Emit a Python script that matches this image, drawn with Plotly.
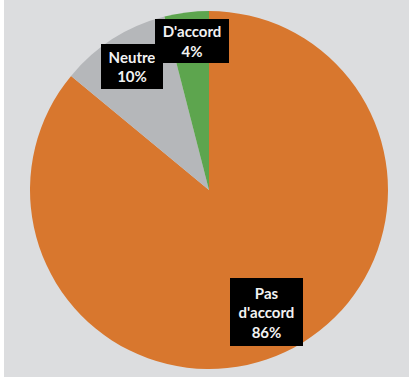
import plotly.graph_objects as go

# Répartition des réponses
labels = ["Pas d'accord", "Neutre", "D'accord"]
values = [86, 10, 4]
label_text = ["Pas<br>d'accord<br>86%", "Neutre<br>10%", "D'accord<br>4%"]
colors = ["#d8772e", "#b5b7ba", "#5da54e"]

W, H = 411, 380

fig = go.Figure(go.Pie(
    labels=labels,
    values=values,
    sort=False,
    direction="clockwise",
    rotation=0,
    marker=dict(colors=colors, line=dict(width=0)),
    textinfo="none",
    hoverinfo="label+percent",
    showlegend=False,
    domain=dict(x=[30 / W, 388 / W], y=[(H - 369) / H, (H - 11) / H]),
))

# fond gris du graphique
fig.add_shape(type="rect", xref="paper", yref="paper",
              x0=4 / W, x1=409 / W, y0=3 / H, y1=1,
              fillcolor="#dcdddf", line=dict(width=0), layer="below")

# étiquettes sur fond noir (centre x, centre y, largeur, hauteur en px)
boxes = {
    "Neutre": (132, 66.5, 62, 45),
    "D'accord": (192, 41, 74, 44),
    "Pas d'accord": (266.5, 312, 73, 68),
}
for name in ["Neutre", "D'accord", "Pas d'accord"]:
    cx, cy, bw, bh = boxes[name]
    fig.add_annotation(
        x=cx / W, y=1 - cy / H, xref="paper", yref="paper",
        xanchor="center", yanchor="middle",
        text=label_text[labels.index(name)],
        showarrow=False, align="center",
        width=bw, height=bh, bgcolor="#000000",
        borderpad=0, borderwidth=0,
        font=dict(family="Lato", size=15, color="#f2f2f2", weight="bold"),
    )

fig.update_layout(
    width=W, height=H,
    margin=dict(l=0, r=0, t=0, b=0),
    paper_bgcolor="#ffffff",
    plot_bgcolor="#ffffff",
)

fig.write_html("out.html")
